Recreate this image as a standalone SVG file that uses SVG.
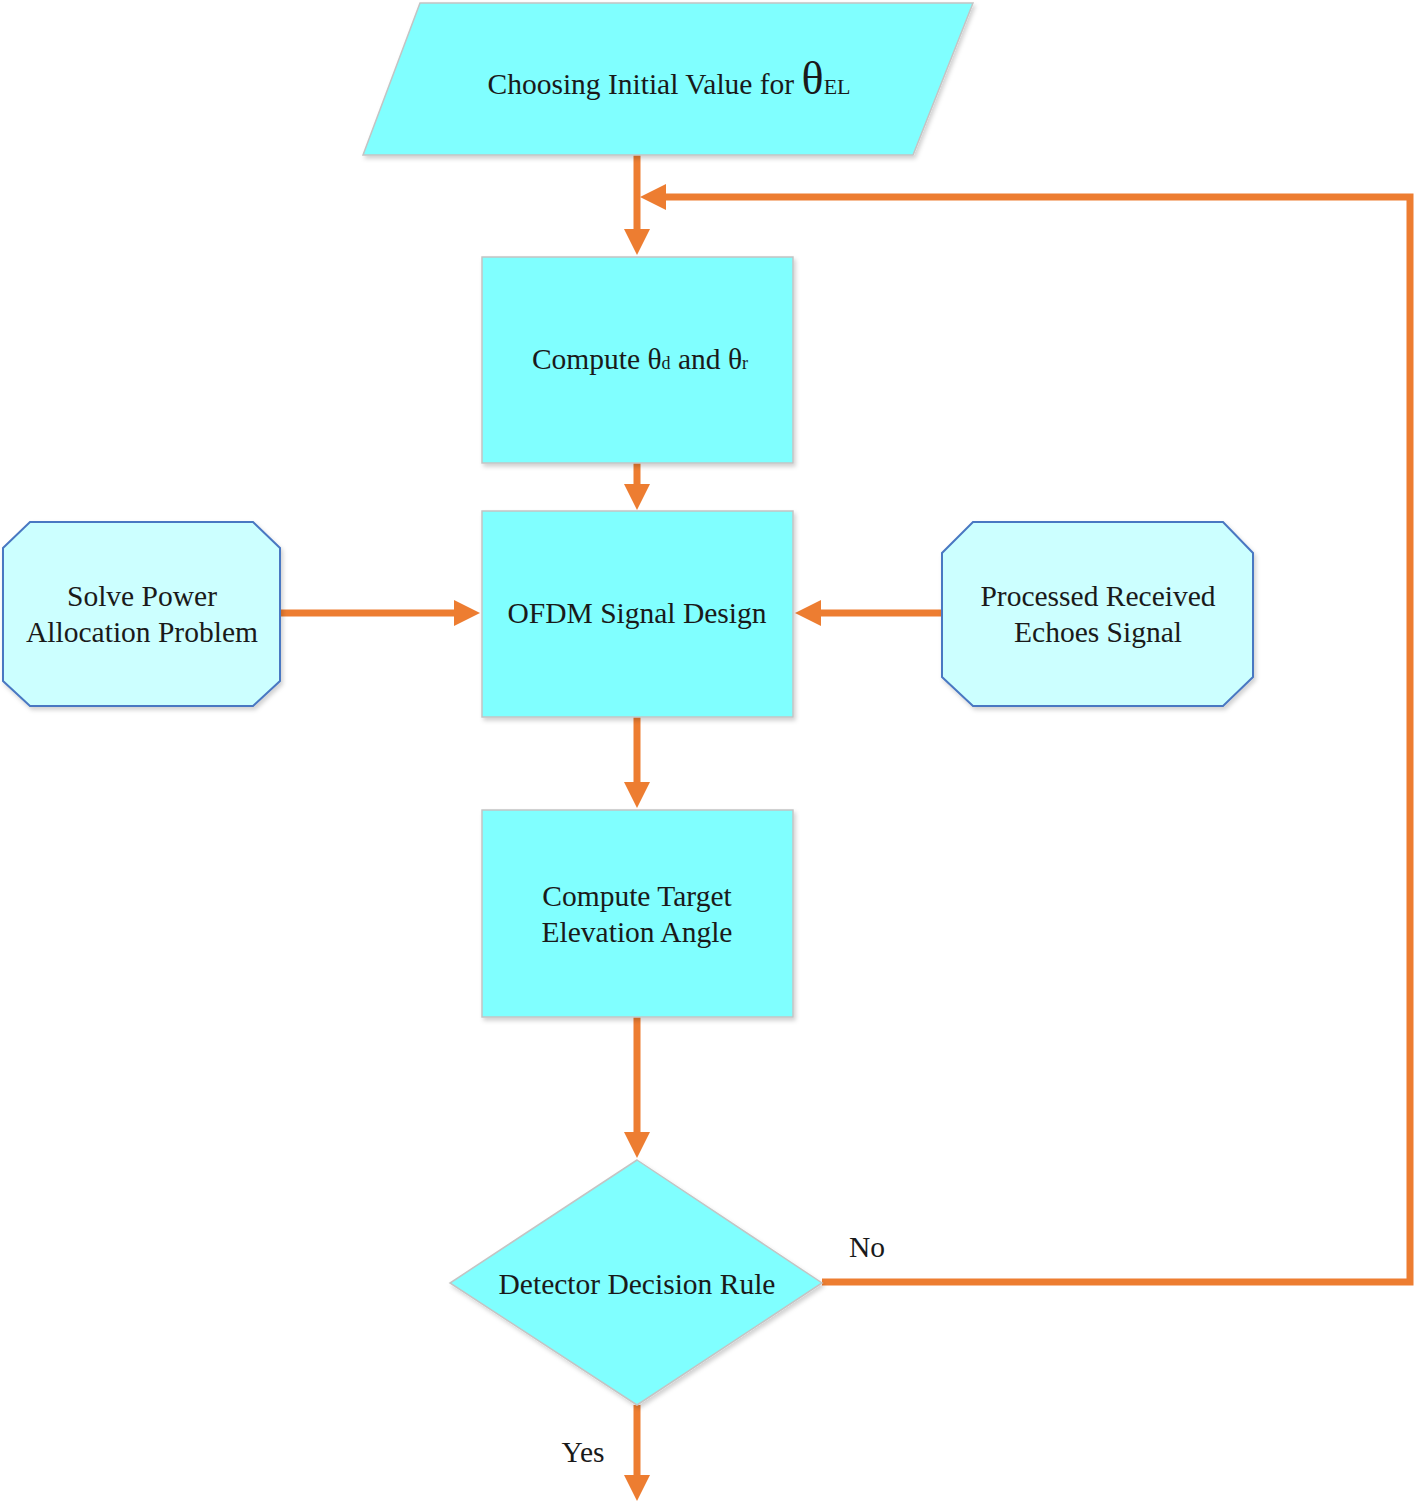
<svg xmlns="http://www.w3.org/2000/svg" width="1416" height="1505" viewBox="0 0 1416 1505">
<defs>
<marker id="ah" viewBox="0 0 26 26" markerUnits="userSpaceOnUse" markerWidth="26" markerHeight="26" refX="16" refY="13" orient="auto">
<path d="M0,0 L26,13 L0,26 z" fill="#ed7d31"/>
</marker>
<filter id="sh" x="-5%" y="-5%" width="110%" height="110%">
<feDropShadow dx="2" dy="3" stdDeviation="2" flood-color="#000" flood-opacity="0.18"/>
</filter>
</defs>
<style>
.main{fill:#80ffff;stroke:#c4c4c4;stroke-width:1.5;filter:url(#sh)}
.side{fill:#ccffff;stroke:#4a78c2;stroke-width:2;filter:url(#sh)}
.t{font-family:"Liberation Serif","Times New Roman",serif;font-size:29.5px;fill:#1a1a1a;text-anchor:middle}
.c{fill:none;stroke:#ed7d31;stroke-width:7;stroke-linejoin:miter}
</style>
<rect width="1416" height="1505" fill="#ffffff"/>
<g id="connectors">
<line class="c" x1="637" y1="152" x2="637" y2="245" marker-end="url(#ah)"/>
<path class="c" d="M822,1282 L1410,1282 L1410,197 L650,197" marker-end="url(#ah)"/>
<line class="c" x1="637" y1="463" x2="637" y2="500" marker-end="url(#ah)"/>
<line class="c" x1="278" y1="613" x2="470" y2="613" marker-end="url(#ah)"/>
<line class="c" x1="944" y1="613" x2="805" y2="613" marker-end="url(#ah)"/>
<line class="c" x1="637" y1="717" x2="637" y2="798" marker-end="url(#ah)"/>
<line class="c" x1="637" y1="1017" x2="637" y2="1148" marker-end="url(#ah)"/>
<line class="c" x1="637" y1="1405" x2="637" y2="1491" marker-end="url(#ah)"/>
</g>
<g id="start">
<polygon class="main" points="420,3 973,3 913,155 363,155"/>
<text class="t" x="669" y="94" text-anchor="middle">Choosing Initial Value for <tspan font-size="46">θ</tspan><tspan font-size="22">EL</tspan></text>
</g>
<g id="compute-theta">
<rect class="main" x="482" y="257" width="311" height="206"/>
<text class="t" x="640" y="369">Compute θ<tspan font-size="18">d</tspan> and θ<tspan font-size="18">r</tspan></text>
</g>
<g id="ofdm">
<rect class="main" x="482" y="511" width="311" height="206"/>
<text class="t" x="637" y="623">OFDM Signal Design</text>
</g>
<g id="power">
<polygon class="side" points="30,522 253,522 280,548 280,681 253,706 30,706 3,681 3,548"/>
<text class="t" x="142" y="606">Solve Power</text>
<text class="t" x="142" y="642">Allocation Problem</text>
</g>
<g id="echoes">
<polygon class="side" points="973,522 1223,522 1253,553 1253,677 1223,706 973,706 942,677 942,553"/>
<text class="t" x="1098" y="606">Processed Received</text>
<text class="t" x="1098" y="642">Echoes Signal</text>
</g>
<g id="elevation">
<rect class="main" x="482" y="810" width="311" height="207"/>
<text class="t" x="637" y="906">Compute Target</text>
<text class="t" x="637" y="942">Elevation Angle</text>
</g>
<g id="decision">
<polygon class="main" points="637,1160 822,1283 637,1405 450,1283"/>
<text class="t" x="637" y="1294">Detector Decision Rule</text>
</g>
<g id="labels">
<text class="t" x="867" y="1257">No</text>
<text class="t" x="583" y="1462">Yes</text>
</g>
</svg>
